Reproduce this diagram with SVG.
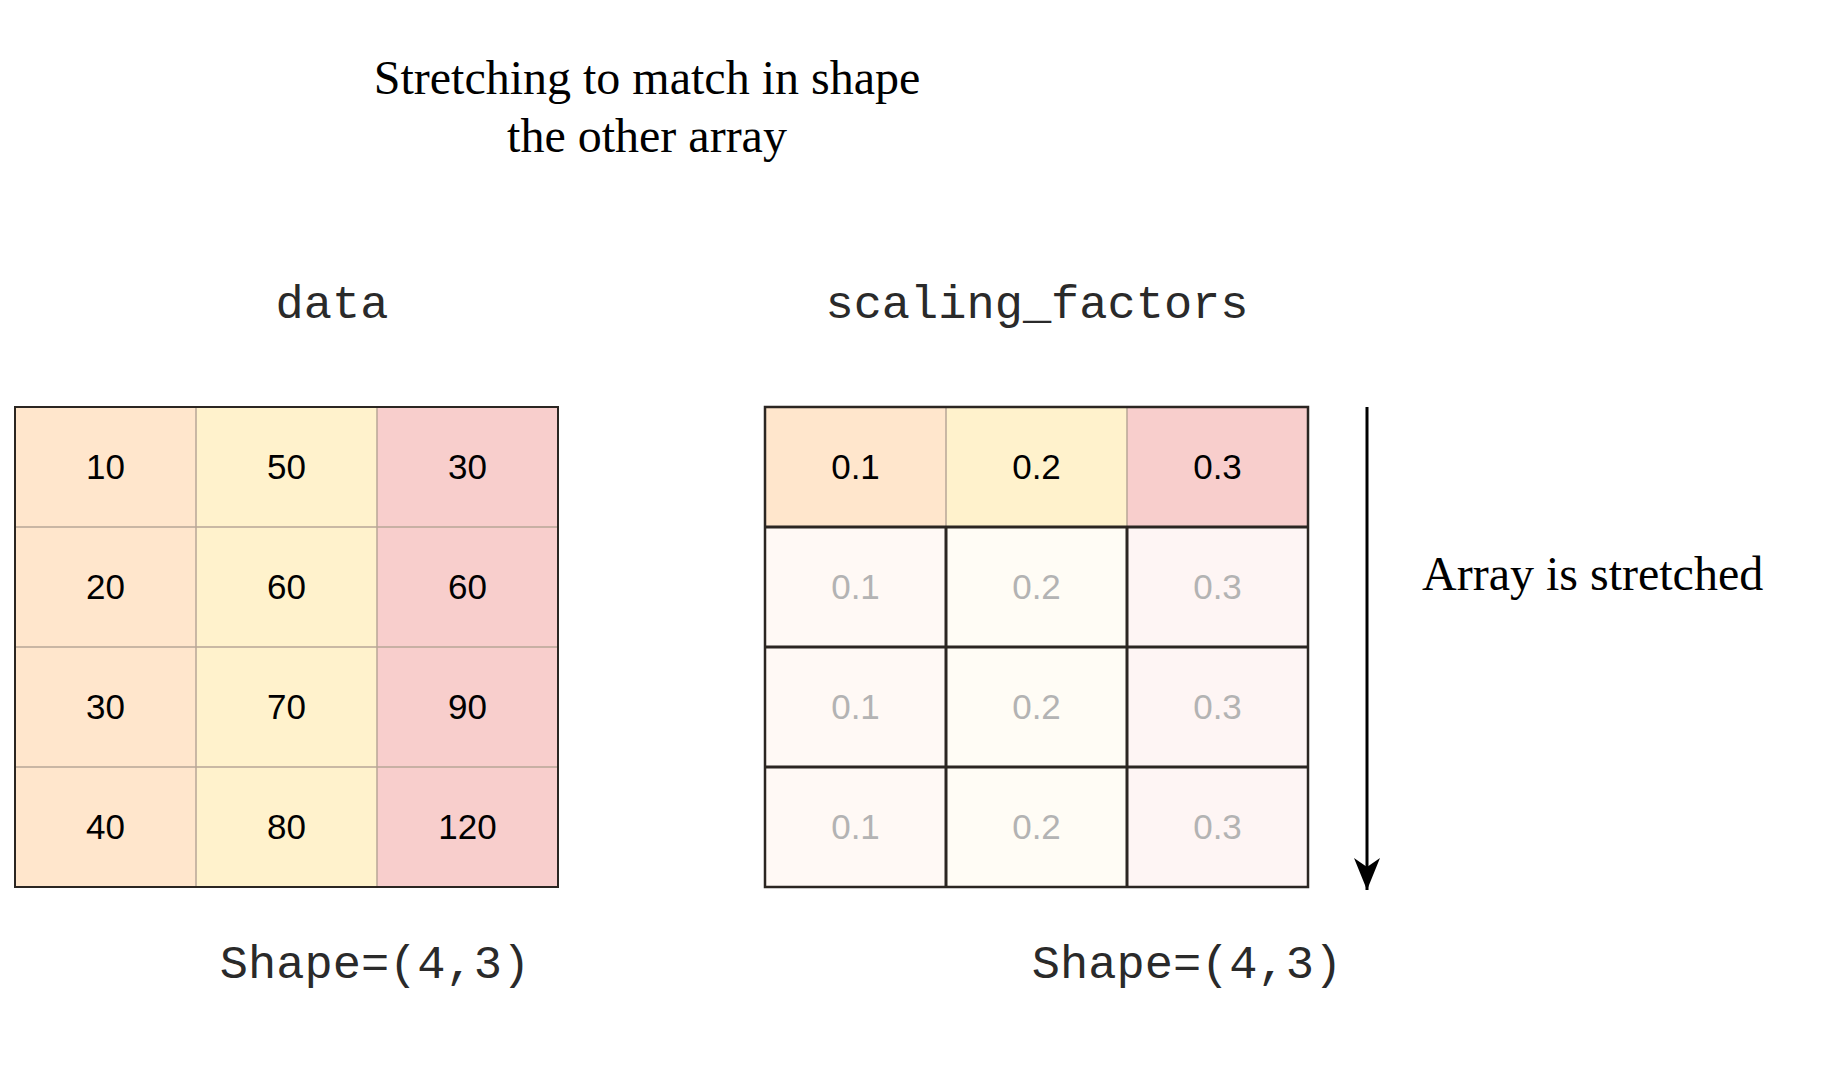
<svg xmlns="http://www.w3.org/2000/svg" width="1833" height="1083" viewBox="0 0 1833 1083">
<style>
.serif{font-family:"Liberation Serif","Times New Roman",serif;font-size:48px;fill:#000}
.mono{font-family:"Liberation Mono","Courier New",monospace;font-size:47px;fill:#2a2a2a;text-anchor:middle}
.num{font-family:"Liberation Sans",Arial,sans-serif;font-size:35px;fill:#000;text-anchor:middle}
.faded{fill:#b3b3b3}
.c1{fill:#FFE6CC}.c2{fill:#FFF2CC}.c3{fill:#F8CECC}
.f1{fill:#FFF9F5}.f2{fill:#FFFCF5}.f3{fill:#FEF5F4}
.thin{stroke:#b8a696;stroke-width:1.5}
.dark{stroke:#2b2622;stroke-width:3;fill:none}
</style>
<defs>
<marker id="arrow" markerWidth="32" markerHeight="26" refX="32" refY="13" orient="auto" markerUnits="userSpaceOnUse" viewBox="0 0 32 26">
<path d="M0,0 L32,13 L0,26 L9,13 Z" fill="#000"/>
</marker>
</defs>
<rect width="1833" height="1083" fill="#fff"/>
<g id="title">
<text class="serif" x="647" y="94" text-anchor="middle">Stretching to match in shape</text>
<text class="serif" x="647" y="152" text-anchor="middle">the other array</text>
</g>
<g id="label-data"><text class="mono" x="332" y="318">data</text></g>
<g id="label-scaling"><text class="mono" x="1037" y="318">scaling_factors</text></g>
<g id="data-array">
<rect class="c1" x="15" y="407" width="181" height="480"/>
<rect class="c2" x="196" y="407" width="181" height="480"/>
<rect class="c3" x="377" y="407" width="181" height="480"/>
<path class="thin" d="M196,407V887M377,407V887M15,527H558M15,647H558M15,767H558"/>
<rect class="dark" x="15" y="407" width="543" height="480" style="stroke-width:2"/>
<text class="num" x="105.5" y="479">10</text><text class="num" x="286.5" y="479">50</text><text class="num" x="467.5" y="479">30</text>
<text class="num" x="105.5" y="599">20</text><text class="num" x="286.5" y="599">60</text><text class="num" x="467.5" y="599">60</text>
<text class="num" x="105.5" y="719">30</text><text class="num" x="286.5" y="719">70</text><text class="num" x="467.5" y="719">90</text>
<text class="num" x="105.5" y="839">40</text><text class="num" x="286.5" y="839">80</text><text class="num" x="467.5" y="839">120</text>
</g>
<g id="scaling-array">
<rect class="c1" x="765" y="407" width="181" height="120"/>
<rect class="c2" x="946" y="407" width="181" height="120"/>
<rect class="c3" x="1127" y="407" width="181" height="120"/>
<path class="thin" d="M946,407V527M1127,407V527"/>
<rect class="f1" x="765" y="527" width="181" height="360"/>
<rect class="f2" x="946" y="527" width="181" height="360"/>
<rect class="f3" x="1127" y="527" width="181" height="360"/>
<path class="dark" d="M946,527V887M1127,527V887M765,527H1308M765,647H1308M765,767H1308"/>
<rect class="dark" x="765" y="407" width="543" height="480" style="stroke-width:2.5"/>
<text class="num" x="855.5" y="479">0.1</text><text class="num" x="1036.5" y="479">0.2</text><text class="num" x="1217.5" y="479">0.3</text>
<text class="num faded" x="855.5" y="599">0.1</text><text class="num faded" x="1036.5" y="599">0.2</text><text class="num faded" x="1217.5" y="599">0.3</text>
<text class="num faded" x="855.5" y="719">0.1</text><text class="num faded" x="1036.5" y="719">0.2</text><text class="num faded" x="1217.5" y="719">0.3</text>
<text class="num faded" x="855.5" y="839">0.1</text><text class="num faded" x="1036.5" y="839">0.2</text><text class="num faded" x="1217.5" y="839">0.3</text>
</g>
<g id="connectors">
<line x1="1367" y1="407" x2="1367" y2="890" stroke="#000" stroke-width="3" marker-end="url(#arrow)"/>
</g>
<g id="label-stretched"><text class="serif" x="1422" y="590">Array is stretched</text></g>
<g id="label-shape1"><text class="mono" x="375" y="978">Shape=(4,3)</text></g>
<g id="label-shape2"><text class="mono" x="1187" y="978">Shape=(4,3)</text></g>
</svg>
